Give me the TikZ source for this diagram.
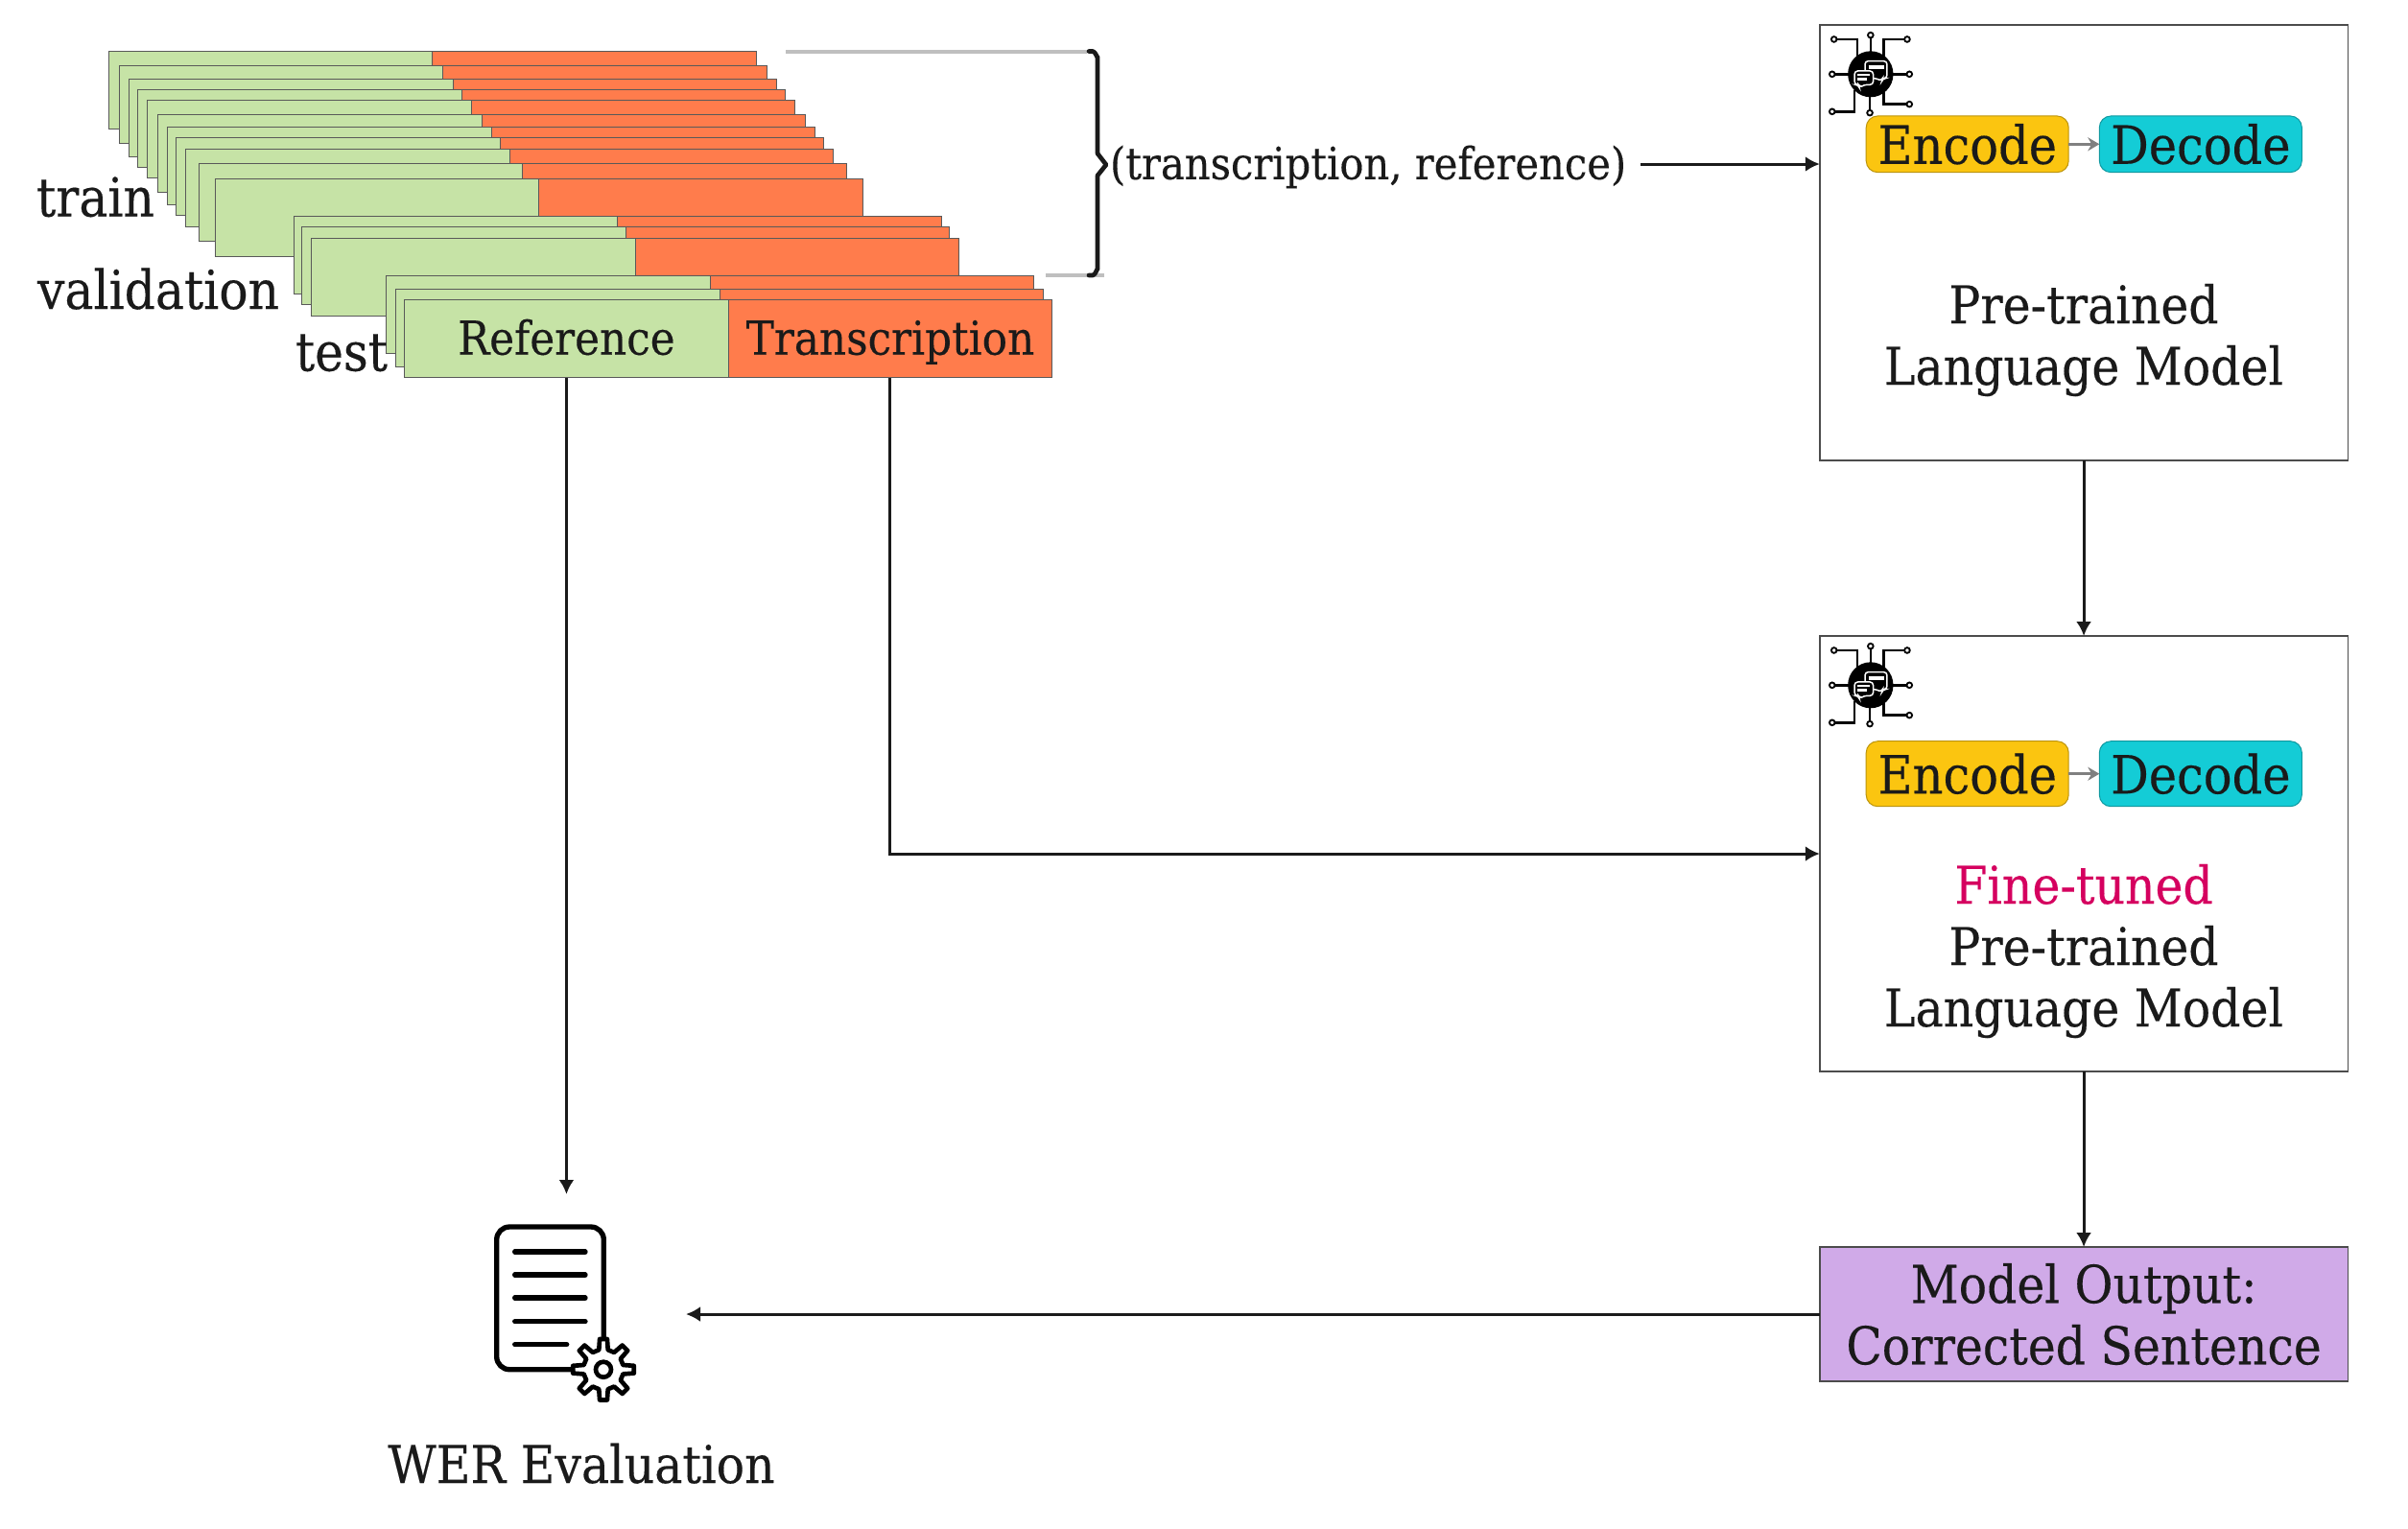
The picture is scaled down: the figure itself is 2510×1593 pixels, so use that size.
\documentclass[tikz,border=0pt]{standalone}
\usepackage{fontspec}
\setmainfont[FakeBold=0.25]{DejaVu Serif Condensed}
\usetikzlibrary{arrows.meta,calc}
\definecolor{ink}{HTML}{1A1A1A}
\definecolor{gfill}{HTML}{C6E3A6}
\definecolor{ofill}{HTML}{FF7C4C}
\definecolor{yfill}{HTML}{FBC510}
\definecolor{tfill}{HTML}{14CCD6}
\definecolor{pfill}{HTML}{D0AAE8}
\definecolor{pinktxt}{HTML}{D5005F}
\def\uu{0.3pt}
\tikzset{
  every node/.style={text=ink,inner sep=0pt,outer sep=0pt},
  cell/.style={draw=black!65,line width=0.3pt,minimum width=337.5*\uu,minimum height=81*\uu,anchor=north west,text height=41*\uu,text depth=8*\uu},
  gcell/.style={cell,fill=gfill},
  ocell/.style={cell,fill=ofill},
  modelbox/.style={draw=black!70,line width=0.45pt,fill=white,minimum width=550.5*\uu,minimum height=454*\uu,anchor=north west},
  coderbox/.style={rounded corners=3.6pt,line width=0.3pt,minimum width=211*\uu,font=\fontsize{16.5}{20}\selectfont,text height=41*\uu,text depth=0pt},
  arr/.style={draw=ink,line width=0.9pt,-{Latex[length=15*\uu,width=16*\uu]}},
  garr/.style={draw=black!50,line width=0.9pt,-{Stealth[length=12*\uu,width=14*\uu]}},
  lab/.style={font=\fontsize{16.3}{19.2}\selectfont,align=center},
  sm/.style={font=\fontsize{16.8}{20}\selectfont},
  cellfont/.style={font=\fontsize{14.6}{17}\selectfont},
  chipline/.style={draw=black,line width=0.75pt},
  chipdot/.style={draw=black,fill=white,line width=0.55pt},
}
\newcommand{\chipicon}[2]{%
\begin{scope}[shift={(#1,#2)},x=0.1167pt,y=-0.1pt]
  \draw[chipline] (-98,-109) -- (-36,-109) -- (-36,-50);
  \draw[chipline] (0,-122) -- (0,-60);
  \draw[chipline] (98,-109) -- (35,-109) -- (35,-50);
  \draw[chipline] (-103,0) -- (-50,0);
  \draw[chipline] (104,0) -- (50,0);
  \draw[chipline] (-103,117) -- (-43,117) -- (-43,50);
  \draw[chipline] (-2,121) -- (-2,60);
  \draw[chipline] (104,94) -- (35,94) -- (35,50);
  \fill[black] (0,0) circle[x radius=7.1pt,y radius=7.2pt];
  \foreach \px/\py in {-98/-109,0/-122,98/-109,-103/0,104/0,-103/117,-2/121,104/94}
    \draw[chipdot] (\px,\py) circle[radius=0.85pt];
  \draw[white,line width=0.45pt,rounded corners=1pt,fill=black]
    (-15,-41) -- (44,-41) -- (44,13) -- (32,13) -- (30,22) -- (16,13) -- (-15,13) -- cycle;
  \draw[white,line width=1pt] (-6,-22) -- (36,-22);
  \draw[white,line width=0.45pt,rounded corners=1pt,fill=black]
    (-43,-10) -- (7,-10) -- (7,33) -- (-18,33) -- (-30,43) -- (-32,33) -- (-43,33) -- cycle;
  \draw[white,line width=0.8pt] (-35,2) -- (-2,2) (-35,15) -- (-10,15);
\end{scope}}
\begin{document}
\begin{tikzpicture}[x=\uu,y=-\uu]
\useasboundingbox (0,0) rectangle (2510,1593);
% stacked dataset rows
\foreach \i/\x/\y in {1/113.3/53.7,2/124/68.3,3/134.7/82,4/143.9/93.3,5/153.8/104.7,6/164.5/119,7/174.5/132.3,8/183.7/143.7,9/193.6/155,10/207.4/170.7,11/224.2/186.7,12/306/225.7,13/314.5/236.7,14/324.5/248,15/402.5/287.7,16/412.5/301.3}{
  \node[gcell] (g\i) at (\x,\y) {};
  \node[ocell] (o\i) at (\x+337.5,\y) {};
}
\node[gcell,cellfont] (refcell) at (421.7,312.7) {Reference};
\node[ocell,cellfont] (trans) at (759.2,312.7) {Transcription};
\node[sm,anchor=base] (train) at (99.5,225.5) {train};
\node[sm,anchor=base] (valid) at (165,322) {validation};
\node[sm,anchor=base] (testl) at (356,386.5) {test};
% brace
\draw[draw=black!25,line width=1.2pt] (819,53.7) -- (1133,53.7);
\draw[draw=black!25,line width=1.2pt] (1090,287) -- (1151,287);
\draw[ink,line width=1.4pt,line cap=round,line join=round] (1135,53.5) -- (1139,53.5) to[out=0,in=-90] (1144,59) -- (1144,160) -- (1153,171.7) -- (1144,183) -- (1144,281) to[out=90,in=0] (1139,287) -- (1135,287);
\node[anchor=west,font=\fontsize{13.9}{17}\selectfont] (pair) at (1157,174) {(transcription, reference)};
% model boxes
\node[modelbox] (box1) at (1896.8,26) {};
\node[modelbox] (box2) at (1896.8,663) {};
\node[draw=black!70,line width=0.45pt,fill=pfill,minimum width=550.5*\uu,minimum height=140*\uu,anchor=north west,lab] (box3) at (1896.8,1300) {Model Output:\\Corrected Sentence};
\chipicon{1949.8}{77.3}
\chipicon{1949.8}{714.3}
\node[coderbox,draw=yfill!75!black,fill=yfill,minimum height=58.7*\uu] (enc1) at (2050.7,150.3) {Encode};
\node[coderbox,draw=tfill!75!black,fill=tfill,minimum height=58.7*\uu] (dec1) at (2293.8,150.3) {Decode};
\node[coderbox,draw=yfill!75!black,fill=yfill,minimum height=68*\uu] (enc2) at (2050.7,806.7) {Encode};
\node[coderbox,draw=tfill!75!black,fill=tfill,minimum height=68*\uu] (dec2) at (2293.8,806.7) {Decode};
\draw[garr] (enc1) -- (dec1);
\draw[garr] (enc2) -- (dec2);
\node[lab] (txt1) at (2172,354.5) {Pre-trained\\Language Model};
\node[lab] (txt2) at (2172,991.5) {{\color{pinktxt}Fine-tuned}\\Pre-trained\\Language Model};
% evaluation icon
\coordinate (doctop) at (589.6,1245);
\coordinate (docright) at (715,1369.7);
\coordinate (pairout) at (1710,171);
\begin{scope}[line cap=round,line join=round]
  \draw[black,line width=1.6pt,rounded corners=4pt] (517.7,1279) rectangle (629.3,1427.7);
  \foreach \ly/\lx in {1305/610,1329/610,1353/610,1377.7/610,1401.7/590.7}
    \draw[black,line width=1.6pt] (536.7,\ly) -- (\lx,\ly);
  \begin{scope}[shift={(629,1427.7)}]
    \draw[black,fill=white,line width=1.4pt] (-13:21) \foreach \a in {0,45,...,315}{ -- (\a-13:21) -- (\a-7:32) -- (\a+7:32) -- (\a+13:21)} -- cycle;
    \draw[black,line width=1.4pt] (0,0) circle[radius=2.4pt];
  \end{scope}
\end{scope}
\node[lab,anchor=base] (wer) at (606,1546) {WER Evaluation};
% connectors
\draw[arr] (pairout) -- (pairout -| box1.west);
\draw[arr] (box1) -- (box2);
\draw[arr] (box2) -- (box3);
\draw[arr] (trans.south) |- (box2.west);
\draw[arr] (refcell.south) -- (refcell.south |- doctop);
\draw[arr] (box3.west) -- (box3.west -| docright);
\end{tikzpicture}
\end{document}
